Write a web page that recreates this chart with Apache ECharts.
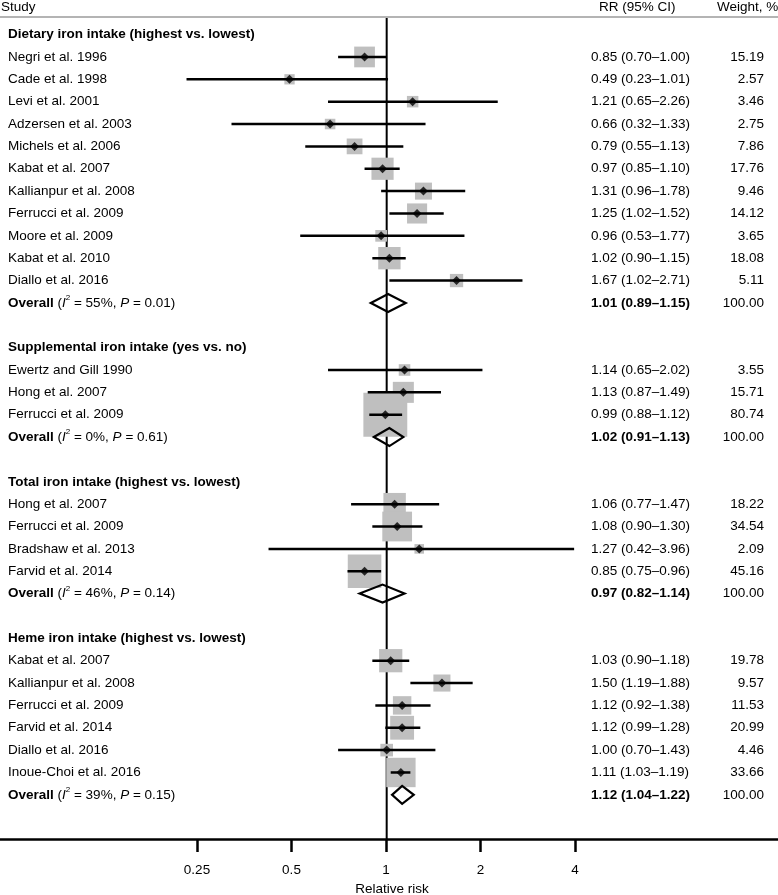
<!DOCTYPE html>
<html><head><meta charset="utf-8">
<script src="https://cdn.jsdelivr.net/npm/echarts@6/dist/echarts.min.js"></script>
<style>html,body{margin:0;padding:0;background:#fff}#c{width:778px;height:895px}</style>
</head><body><div id="c"></div>
<script>
// ---------------- DATA ----------------
const sectionTitles = [
  'Dietary iron intake (highest vs. lowest)',
  'Supplemental iron intake (yes vs. no)',
  'Total iron intake (highest vs. lowest)',
  'Heme iron intake (highest vs. lowest)'
];
const studyGroup = [0,0,0,0,0,0,0,0,0,0,0, 1,1,1, 2,2,2,2, 3,3,3,3,3,3];
const studyNames = [
  'Negri et al. 1996','Cade et al. 1998','Levi et al. 2001','Adzersen et al. 2003','Michels et al. 2006',
  'Kabat et al. 2007','Kallianpur et al. 2008','Ferrucci et al. 2009','Moore et al. 2009','Kabat et al. 2010','Diallo et al. 2016',
  'Ewertz and Gill 1990','Hong et al. 2007','Ferrucci et al. 2009',
  'Hong et al. 2007','Ferrucci et al. 2009','Bradshaw et al. 2013','Farvid et al. 2014',
  'Kabat et al. 2007','Kallianpur et al. 2008','Ferrucci et al. 2009','Farvid et al. 2014','Diallo et al. 2016','Inoue-Choi et al. 2016'
];
const studyRR = [0.85,0.49,1.21,0.66,0.79,0.97,1.31,1.25,0.96,1.02,1.67, 1.14,1.13,0.99, 1.06,1.08,1.27,0.85, 1.03,1.50,1.12,1.12,1.00,1.11];
const studyLo = [0.70,0.23,0.65,0.32,0.55,0.85,0.96,1.02,0.53,0.90,1.02, 0.65,0.87,0.88, 0.77,0.90,0.42,0.75, 0.90,1.19,0.92,0.99,0.70,1.03];
const studyHi = [1.00,1.01,2.26,1.33,1.13,1.10,1.78,1.52,1.77,1.15,2.71, 2.02,1.49,1.12, 1.47,1.30,3.96,0.96, 1.18,1.88,1.38,1.28,1.43,1.19];
const studyWeight = [15.19,2.57,3.46,2.75,7.86,17.76,9.46,14.12,3.65,18.08,5.11, 3.55,15.71,80.74, 18.22,34.54,2.09,45.16, 19.78,9.57,11.53,20.99,4.46,33.66];
const overallRR = [1.01,1.02,0.97,1.12];
const overallLo = [0.89,0.91,0.82,1.04];
const overallHi = [1.15,1.13,1.14,1.22];
const overallI2 = ['55%','0%','46%','39%'];
const overallP  = ['0.01','0.61','0.14','0.15'];
const axisTicks = [0.25, 0.5, 1, 2, 4];
const refValue = 1;
const headerLabels = ['Study', 'RR (95% CI)', 'Weight, %'];
const axisTitle = 'Relative risk';

// ---------------- LAYOUT TABLE ----------------
const rows = [];
let r = 0;
for (let g = 0; g < sectionTitles.length; g++) {
  rows.push({type: 'title', g: g, row: r++});
  for (let i = 0; i < studyNames.length; i++) {
    if (studyGroup[i] === g) rows.push({type: 'study', i: i, row: r++});
  }
  rows.push({type: 'overall', g: g, row: r++});
  r++;
}
const fmt = v => v.toFixed(2);
const ciText = (a, b, c) => fmt(a) + ' (' + fmt(b) + '\u2013' + fmt(c) + ')';

const FONT = '"Liberation Sans", Arial, Helvetica, sans-serif';
const FS = 13.5;
const YMIN = -0.742, YMAX = 35.975;

const studyPts = [], ciLines = [], overallPts = [], textRows = [];
rows.forEach((row, k) => {
  textRows.push([row.row, k]);
  if (row.type === 'study') {
    const i = row.i;
    studyPts.push([studyRR[i], row.row, studyWeight[i]]);
    ciLines.push([studyLo[i], studyHi[i], row.row]);
  } else if (row.type === 'overall') {
    const g = row.g;
    overallPts.push([overallLo[g], overallRR[g], overallHi[g], row.row]);
  }
});

const chart = echarts.init(document.getElementById('c'), null, {renderer: 'canvas'});

function tokenStyle(extra) {
  return Object.assign({fontFamily: FONT, fontSize: FS, fill: '#000', lineHeight: 18}, extra || {});
}

const option = {
  animation: false,
  backgroundColor: '#fff',
  grid: [
    {left: 0, right: 0, top: 18, bottom: 56, outerBoundsMode: 'none'},
    {left: 197, right: 203, top: 18, bottom: 56, outerBoundsMode: 'none'}
  ],
  xAxis: [
    {gridIndex: 0, type: 'log', logBase: 2, min: Math.pow(2, -4.096), max: Math.pow(2, 4.145), position: 'bottom',
      axisLine: {show: true, onZero: false, lineStyle: {color: '#000', width: 2.5}},
      axisTick: {show: false}, axisLabel: {show: false}, splitLine: {show: false}},
    {gridIndex: 1, type: 'log', logBase: 2, min: axisTicks[0], max: axisTicks[axisTicks.length - 1], position: 'bottom',
      axisLine: {show: false, onZero: false},
      axisTick: {show: true, length: 13, lineStyle: {color: '#000', width: 2.5}},
      axisLabel: {show: true, margin: 22, padding: [2.5, 0, 0, 0], color: '#000', fontFamily: FONT, fontSize: FS,
        formatter: v => String(+(+v).toPrecision(3))},
      splitLine: {show: false},
      name: axisTitle, nameLocation: 'middle', nameGap: 43, nameMoveOverlap: false,
      nameTextStyle: {color: '#000', fontFamily: FONT, fontSize: FS, padding: [0, 0, 0, 12]}}
  ],
  yAxis: [
    {gridIndex: 0, type: 'value', inverse: true, min: YMIN, max: YMAX, show: false},
    {gridIndex: 1, type: 'value', inverse: true, min: YMIN, max: YMAX, show: false}
  ],
  graphic: [
    {type: 'line', shape: {x1: 0, y1: 17, x2: 778, y2: 17}, style: {stroke: '#b4b4b4', lineWidth: 2}, z: 10},
    {type: 'text', x: 1, y: 7, style: {text: headerLabels[0], fontFamily: FONT, fontSize: FS, fill: '#000', align: 'left', verticalAlign: 'middle'}},
    {type: 'text', x: 599, y: 7, style: {text: headerLabels[1], fontFamily: FONT, fontSize: FS, fill: '#000', align: 'left', verticalAlign: 'middle'}},
    {type: 'text', x: 717, y: 7, style: {text: headerLabels[2], fontFamily: FONT, fontSize: FS, fill: '#000', align: 'left', verticalAlign: 'middle'}}
  ],
  series: [
    { // reference line at RR = 1
      type: 'custom', xAxisIndex: 0, yAxisIndex: 0, z: 1, silent: true,
      data: [[refValue]],
      encode: {x: 0},
      renderItem: function (params, api) {
        const p1 = api.coord([api.value(0), YMIN]);
        const p2 = api.coord([api.value(0), YMAX]);
        return {type: 'line', shape: {x1: p1[0], y1: p1[1], x2: p2[0], y2: p2[1]},
          style: {stroke: '#000', lineWidth: 2}};
      }
    },
    { // weight boxes
      type: 'scatter', xAxisIndex: 0, yAxisIndex: 0, z: 2, silent: true,
      symbol: 'rect',
      symbolSize: v => 3 + 4.55 * Math.sqrt(v[2]),
      itemStyle: {color: '#bfbfbf', opacity: 1},
      data: studyPts
    },
    { // confidence intervals
      type: 'custom', xAxisIndex: 0, yAxisIndex: 0, z: 3, silent: true,
      data: ciLines,
      encode: {x: [0, 1], y: 2},
      renderItem: function (params, api) {
        const a = api.coord([api.value(0), api.value(2)]);
        const b = api.coord([api.value(1), api.value(2)]);
        return {type: 'line', shape: {x1: a[0], y1: a[1], x2: b[0], y2: b[1]},
          style: {stroke: '#000', lineWidth: 2.5}};
      }
    },
    { // point estimates
      type: 'scatter', xAxisIndex: 0, yAxisIndex: 0, z: 4, silent: true,
      symbol: 'diamond', symbolSize: 9,
      itemStyle: {color: '#000'},
      data: studyPts.map(p => [p[0], p[1]])
    },
    { // overall diamonds
      type: 'custom', xAxisIndex: 0, yAxisIndex: 0, z: 5, silent: true,
      data: overallPts,
      encode: {x: [0, 1, 2], y: 3},
      renderItem: function (params, api) {
        const row = api.value(3);
        const l = api.coord([api.value(0), row]);
        const c = api.coord([api.value(1), row]);
        const h = api.coord([api.value(2), row]);
        const hh = 9;
        return {type: 'polygon',
          shape: {points: [[l[0], l[1]], [c[0], c[1] - hh], [h[0], h[1]], [c[0], c[1] + hh]]},
          style: {stroke: '#000', lineWidth: 2.2, fill: 'rgba(255,255,255,0)'}};
      }
    },
    { // text columns
      type: 'custom', xAxisIndex: 0, yAxisIndex: 0, z: 6, silent: true,
      data: textRows,
      encode: {y: 0},
      renderItem: function (params, api) {
        const item = rows[api.value(1)];
        const y = api.coord([refValue, api.value(0)])[1];
        const children = [];
        const base = {fontFamily: FONT, fontSize: FS, fill: '#000', verticalAlign: 'middle'};
        if (item.type === 'title') {
          children.push({type: 'text', x: 8, y: y, style: Object.assign({}, base, {text: sectionTitles[item.g], fontWeight: 'bold', align: 'left'})});
        } else if (item.type === 'study') {
          const i = item.i;
          children.push({type: 'text', x: 8, y: y, style: Object.assign({}, base, {text: studyNames[i], align: 'left'})});
          children.push({type: 'text', x: 591, y: y, style: Object.assign({}, base, {text: ciText(studyRR[i], studyLo[i], studyHi[i]), align: 'left'})});
          children.push({type: 'text', x: 764, y: y, style: Object.assign({}, base, {text: fmt(studyWeight[i]), align: 'right'})});
        } else {
          const g = item.g;
          const txt = '{b|Overall}{n| (}{i|I}{sup|2}{n| = ' + overallI2[g] + ', }{i|P}{n| = ' + overallP[g] + ')}';
          children.push({type: 'text', x: 8, y: y, style: Object.assign({}, base, {
            text: txt, align: 'left',
            rich: {
              b: tokenStyle({fontWeight: 'bold'}),
              n: tokenStyle(),
              i: tokenStyle({fontStyle: 'italic'}),
              sup: {fontFamily: FONT, fontSize: 8, fill: '#000', verticalAlign: 'top'}
            }
          })});
          children.push({type: 'text', x: 591, y: y, style: Object.assign({}, base, {text: ciText(overallRR[g], overallLo[g], overallHi[g]), align: 'left', fontWeight: 'bold'})});
          children.push({type: 'text', x: 764, y: y, style: Object.assign({}, base, {text: fmt(100), align: 'right'})});
        }
        return {type: 'group', children: children};
      }
    }
  ]
};
chart.setOption(option);
</script>
</body></html>
